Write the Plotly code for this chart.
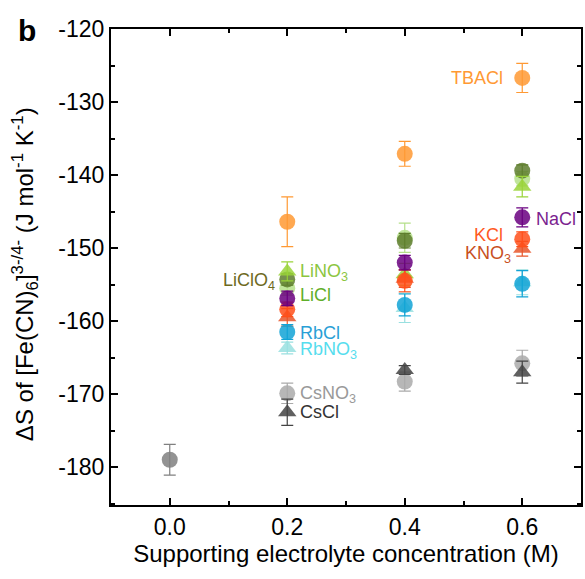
import plotly.graph_objects as go

# ---------------- data ----------------
conc = [0.2, 0.4, 0.6]

y_none = [-179.0]
e_none = [2.1]

y_TBACl = [-146.4, -137.1, -126.7]
e_TBACl = [3.4, 1.7, 2.0]

y_LiCl = [-155.5, -148.6, -140.5]
e_LiCl = [1.0, 2.0, 1.0]

y_LiClO4 = [-154.3, -149.0, -139.4]
e_LiClO4 = [0.8, 1.0, 0.8]

y_LiNO3 = [-153.2, -153.6, -141.6]
e_LiNO3 = [1.3, 1.5, 1.4]

y_KNO3 = [-159.5, -154.2, -150.1]
e_KNO3 = [1.2, 1.2, 1.0]

y_KCl = [-158.4, -154.5, -148.8]
e_KCl = [1.0, 1.5, 1.0]

y_NaCl = [-156.9, -152.0, -145.8]
e_NaCl = [1.0, 1.0, 1.3]

y_RbNO3 = [-163.7, -158.2, -154.7]
e_RbNO3 = [0.8, 2.0, 1.7]

y_RbCl = [-161.5, -157.8, -154.9]
e_RbCl = [1.0, 1.5, 1.8]

y_CsNO3 = [-169.9, -168.3, -165.8]
e_CsNO3 = [1.4, 1.3, 1.8]

y_CsCl = [-172.5, -166.7, -167.0]
e_CsCl = [1.8, 0.6, 1.5]

y_ticks = [-180, -170, -160, -150, -140, -130, -120]
y_ticktext = ["-180", "-170", "-160", "-150", "-140", "-130", "-120"]
x_ticks = [0.0, 0.2, 0.4, 0.6]
x_ticktext = ["0.0", "0.2", "0.4", "0.6"]

# label text, x, y, anchor, colour
labels = [
    ("TBACl", 0.570, -126.7, "right", "#FF9933"),
    ("LiNO<sub>3</sub>", 0.219, -153.3, "left", "#8CC63F"),
    ("LiClO<sub>4</sub>", 0.183, -154.6, "right", "#6E6A1E"),
    ("LiCl", 0.219, -156.4, "left", "#5FAF2A"),
    ("RbCl", 0.219, -161.6, "left", "#2A9FD6"),
    ("RbNO<sub>3</sub>", 0.219, -164.1, "left", "#55DDEE"),
    ("CsNO<sub>3</sub>", 0.219, -170.0, "left", "#999999"),
    ("CsCl", 0.219, -172.5, "left", "#333333"),
    ("NaCl", 0.620, -146.0, "left", "#7B1F8F"),
    ("KCl", 0.570, -148.2, "right", "#FF5A1F"),
    ("KNO<sub>3</sub>", 0.585, -150.9, "right", "#C8501E"),
]

FONT = "Liberation Sans, Arial, sans-serif"

fig = go.Figure()

def add(x, y, e, color, symbol, name):
    fig.add_trace(go.Scatter(
        x=x, y=y, mode="markers", name=name,
        marker=dict(color=color, size=16, symbol=symbol, opacity=0.85,
                    line=dict(width=0)),
        error_y=dict(type="data", array=e, visible=True, color=color,
                     thickness=1.2, width=6),
        showlegend=False,
    ))

add(conc, y_LiCl, e_LiCl, "#B5E08A", "circle", "LiCl")
add(conc, y_LiClO4, e_LiClO4, "#5E7E2E", "circle", "LiClO4")
add(conc, y_LiNO3, e_LiNO3, "#9AD43A", "triangle-up", "LiNO3")
add(conc, y_KNO3, e_KNO3, "#E8562A", "triangle-up", "KNO3")
add(conc, y_KCl, e_KCl, "#FF4F1A", "circle", "KCl")
add(conc, y_NaCl, e_NaCl, "#6A0080", "circle", "NaCl")
add(conc, y_RbNO3, e_RbNO3, "#99E0E0", "triangle-up", "RbNO3")
add(conc, y_RbCl, e_RbCl, "#12A3D6", "circle", "RbCl")
add(conc, y_CsNO3, e_CsNO3, "#AAAAAA", "circle", "CsNO3")
add(conc, y_CsCl, e_CsCl, "#444444", "triangle-up", "CsCl")
add(conc, y_TBACl, e_TBACl, "#FF9933", "circle", "TBACl")
add([0.0], y_none, e_none, "#808080", "circle", "none")

for text, x, y, anchor, color in labels:
    fig.add_annotation(x=x, y=y, text=text, showarrow=False, xanchor=anchor,
                       yanchor="middle", font=dict(size=18, color=color, family=FONT))

fig.add_annotation(xref="paper", yref="paper", x=-0.203, y=0.997, text="<b>b</b>",
                   showarrow=False, xanchor="left", yanchor="middle",
                   font=dict(size=30, color="black", family=FONT))

# y-axis title as rotated annotation for precise placement
fig.add_annotation(xref="paper", yref="paper", x=-0.183, y=0.485, textangle=-90,
                   text="ΔS of [Fe(CN)<sub>6</sub>]<sup>3-/4-</sup> (J mol<sup>-1</sup> K<sup>-1</sup>)",
                   showarrow=False, xanchor="center", yanchor="middle",
                   font=dict(size=24, color="black", family=FONT))

axis_common = dict(showline=True, linewidth=2, linecolor="black", mirror="ticks",
                   ticks="inside", ticklen=7, tickwidth=2, tickcolor="black",
                   showgrid=False, zeroline=False,
                   tickfont=dict(size=23, color="black", family=FONT))

fig.update_xaxes(range=[-0.1, 0.7], tickmode="array", tickvals=x_ticks, ticktext=x_ticktext,
                 minor=dict(ticks="inside", dtick=0.1, ticklen=4, tickwidth=2,
                            tickcolor="black", showgrid=False),
                 title=dict(text="Supporting electrolyte concentration (M)",
                            font=dict(size=24, color="black", family=FONT), standoff=7),
                 **axis_common)
fig.update_yaxes(range=[-185.2, -120], tickmode="array", tickvals=y_ticks, ticktext=y_ticktext,
                 minor=dict(ticks="inside", dtick=5, ticklen=4, tickwidth=2,
                            tickcolor="black", showgrid=False),
                 **axis_common)

fig.update_layout(width=585, height=579, margin=dict(l=111, r=2, t=29, b=74),
                  plot_bgcolor="white", paper_bgcolor="white",
                  font=dict(family=FONT))

fig.write_html("out.html")
